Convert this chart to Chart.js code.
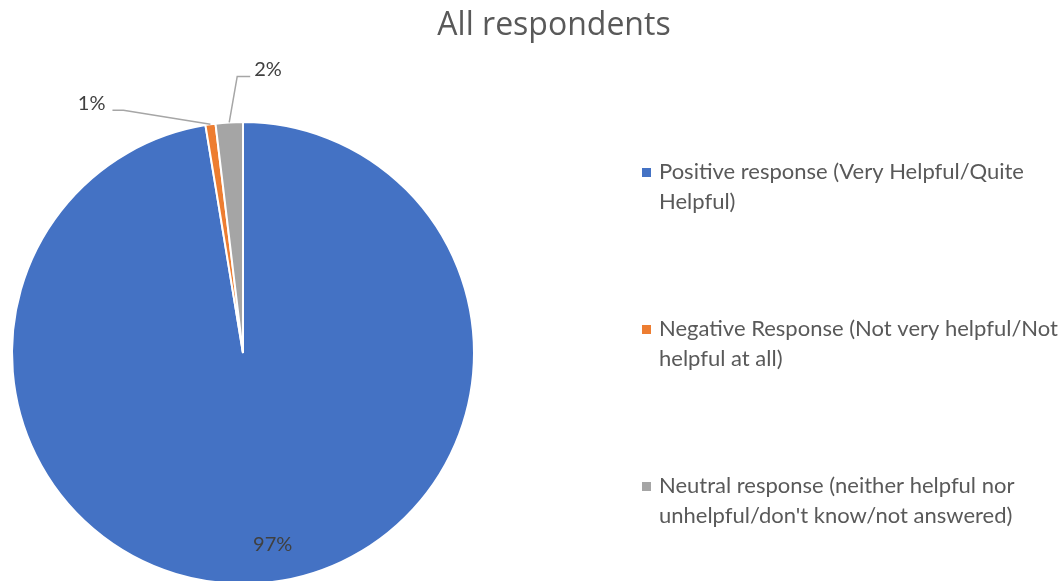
<!DOCTYPE html>
<html>
<head>
<meta charset="utf-8">
<script src="https://cdn.jsdelivr.net/npm/chart.js@4.4.0/dist/chart.umd.min.js"></script>
<style>
  html, body { margin: 0; padding: 0; background: #fff; overflow: hidden; }
  #wrap { width: 1064px; height: 600px; }
</style>
</head>
<body>
<div id="wrap"><canvas id="pieChart" width="1064" height="600"></canvas></div>
<script>
const chartTitle = "All respondents";
const categories = [
  ["Positive response (Very Helpful/Quite", "Helpful)"],
  ["Negative Response (Not very helpful/Not", "helpful at all)"],
  ["Neutral response (neither helpful nor", "unhelpful/don't know/not answered)"],
];
const shares = [97.4, 0.7, 1.9];
const sliceColors = ["#4472C4", "#ED7D31", "#A5A5A5"];

const FONT = "Lato, 'Open Sans', sans-serif";
const TITLE_FONT = "'Open Sans', Lato, sans-serif";
const TEXT_COLOR = "#595959";
const LABEL_COLOR = "#404040";

// where each percentage label goes: inside the slice, or out on a leader line
const labelPlacement = [
  { inside: true, ratio: 0.83, dx: 14 },
  { elbow: [-87, -14], run: -11 },
  { elbow: [8, -46], run: 13 },
];

const pieDecorations = {
  id: "pieDecorations",
  afterDatasetsDraw(chart) {
    const ctx = chart.ctx;
    const arcs = chart.getDatasetMeta(0).data;
    const total = shares.reduce((a, b) => a + b, 0);
    ctx.save();
    ctx.font = "20px " + FONT;
    ctx.fillStyle = LABEL_COLOR;
    arcs.forEach((arc, i) => {
      const { x, y, startAngle, endAngle, outerRadius } = arc.getProps(
        ["x", "y", "startAngle", "endAngle", "outerRadius"],
        true
      );
      const mid = (startAngle + endAngle) / 2;
      const text = Math.round((shares[i] / total) * 100) + "%";
      const place = labelPlacement[i];
      if (place.inside) {
        const r = outerRadius * place.ratio;
        ctx.textAlign = "center";
        ctx.textBaseline = "middle";
        ctx.fillText(text, x + Math.cos(mid) * r + place.dx, y + Math.sin(mid) * r);
        return;
      }
      const ex = x + Math.cos(mid) * outerRadius;
      const ey = y + Math.sin(mid) * outerRadius;
      const bx = ex + place.elbow[0];
      const by = ey + place.elbow[1];
      const cx = bx + place.run;
      ctx.strokeStyle = "#A6A6A6";
      ctx.lineWidth = 1.5;
      ctx.beginPath();
      ctx.moveTo(ex, ey);
      ctx.lineTo(bx, by);
      ctx.lineTo(cx, by);
      ctx.stroke();
      ctx.textBaseline = "alphabetic";
      ctx.textAlign = place.run < 0 ? "right" : "left";
      ctx.fillText(text, cx + (place.run < 0 ? -7 : 4), by);
    });
    ctx.restore();
  },
  afterDraw(chart) {
    const ctx = chart.ctx;
    ctx.save();
    // title
    ctx.fillStyle = TEXT_COLOR;
    ctx.font = "32px " + TITLE_FONT;
    ctx.textAlign = "center";
    ctx.textBaseline = "alphabetic";
    ctx.fillText(chartTitle, 554, 35);

    // legend on the right
    ctx.font = "22px " + FONT;
    ctx.textAlign = "left";
    categories.forEach((lines, i) => {
      const base = 179 + i * 157;
      ctx.fillStyle = sliceColors[i];
      ctx.fillRect(642, base - 11, 9, 9);
      ctx.fillStyle = TEXT_COLOR;
      lines.forEach((line, j) => ctx.fillText(line, 659, base + j * 30));
    });
    ctx.restore();
  },
};

new Chart(document.getElementById("pieChart"), {
  type: "pie",
  data: {
    labels: categories,
    datasets: [
      {
        data: shares,
        backgroundColor: sliceColors,
        borderColor: "#ffffff",
        borderWidth: 2,
        hoverOffset: 0,
      },
    ],
  },
  options: {
    responsive: false,
    animation: false,
    events: [],
    layout: { padding: { left: 11, top: 121, right: 589, bottom: 15 } },
    plugins: {
      legend: { display: false },
      tooltip: { enabled: false },
      title: { display: false },
    },
  },
  plugins: [pieDecorations],
});
</script>
</body>
</html>
